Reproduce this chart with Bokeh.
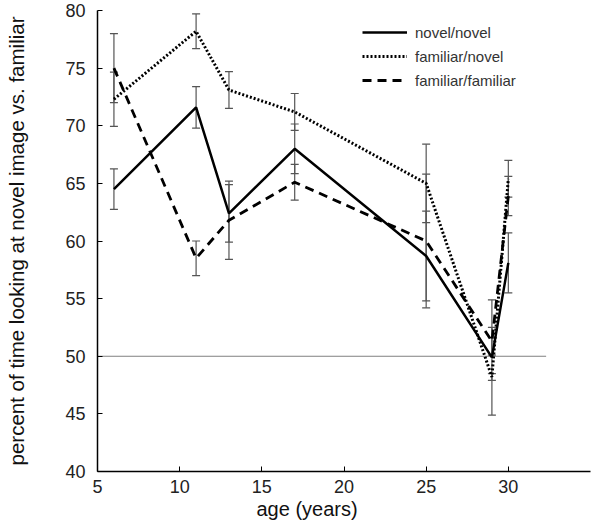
from bokeh.plotting import figure
from bokeh.models import (ColumnDataSource, Whisker, TeeHead, Range1d, Legend,
                          LegendItem, FixedTicker, Title)
from bokeh.embed import file_html
from bokeh.resources import INLINE

# ---- data ----
ages = [6, 11, 13, 17, 25, 29, 30]
novel_novel = [64.5, 71.6, 62.4, 68.0, 58.7, 49.9, 58.1]
novel_novel_err = [1.75, 1.8, 2.5, 2.15, 3.9, 5.0, 2.6]
familiar_novel = [72.3, 78.2, 73.1, 71.2, 65.0, 48.2, 65.4]
familiar_novel_err = [2.35, 1.5, 1.6, 1.6, 3.4, 0.3, 1.6]
familiar_familiar = [75.0, 58.5, 61.8, 65.1, 60.0, 51.3, 63.9]
familiar_familiar_err = [3.0, 1.5, 3.4, 1.55, 5.8, 1.2, 1.7]
chance_x = [5, 32.3]
chance_y = [50, 50]
x_ticks = [5, 10, 15, 20, 25, 30]
y_ticks = [40, 45, 50, 55, 60, 65, 70, 75, 80]
x_title = "age (years)"
y_title = "percent of time looking at novel image vs. familiar"

FONT = "Liberation Sans"

p = figure(width=592, height=526, output_backend="svg", toolbar_location=None,
           x_range=Range1d(5, 35), y_range=Range1d(40, 80),
           min_border_left=97, min_border_right=2, min_border_top=10,
           min_border_bottom=55)
p.outline_line_color = None
p.grid.grid_line_color = None

# chance line
p.line(chance_x, chance_y, line_color="#808080", line_width=1)

series = [
    ("novel/novel", novel_novel, novel_novel_err, "solid", 2.5),
    ("familiar/novel", familiar_novel, familiar_novel_err, "2 2", 3),
    ("familiar/familiar", familiar_familiar, familiar_familiar_err, "9 6", 2.8),
]

items = []
for name, vals, errs, dash, w in series:
    src = ColumnDataSource(dict(x=ages, y=vals,
                                upper=[v + e for v, e in zip(vals, errs)],
                                lower=[v - e for v, e in zip(vals, errs)]))
    wh = Whisker(base="x", upper="upper", lower="lower", source=src,
                 line_color="#555555", line_width=1.2,
                 upper_head=TeeHead(size=8, line_color="#555555", line_width=1.2),
                 lower_head=TeeHead(size=8, line_color="#555555", line_width=1.2))
    p.add_layout(wh)
    r = p.line("x", "y", source=src, line_color="black", line_width=w,
               line_dash=dash)
    items.append(LegendItem(label=name, renderers=[r]))

legend = Legend(items=items, location=(265, 381), padding=0, margin=0,
                spacing=4, glyph_width=45, glyph_height=20, label_height=20,
                label_standoff=8, border_line_alpha=0, background_fill_alpha=0,
                label_text_font=FONT, label_text_font_size="15px",
                label_text_color="#333333")
p.add_layout(legend, "center")

for ax in (p.xaxis[0], p.yaxis[0]):
    ax.axis_line_color = "black"
    ax.axis_line_width = 1.5
    ax.major_tick_in = 5
    ax.major_tick_out = 0
    ax.major_tick_line_color = "black"
    ax.minor_tick_line_color = None
    ax.major_label_text_font = FONT
    ax.major_label_text_font_size = "18px"
    ax.major_label_text_color = "#222222"

p.xaxis[0].ticker = FixedTicker(ticks=x_ticks)
p.yaxis[0].ticker = FixedTicker(ticks=y_ticks)
p.xaxis[0].major_label_standoff = 8
p.yaxis[0].major_label_standoff = 12

p.yaxis[0].axis_label = y_title
p.yaxis[0].axis_label_text_font = FONT
p.yaxis[0].axis_label_text_font_size = "20.5px"
p.yaxis[0].axis_label_text_font_style = "normal"
p.yaxis[0].axis_label_text_color = "#111111"
p.yaxis[0].axis_label_standoff = 34

# x title sits left of the frame centre in the reference
p.add_layout(Title(text=x_title, align="left", offset=159, standoff=0,
                   text_font=FONT, text_font_size="20px",
                   text_font_style="normal", text_color="#111111"), "below")

open("out.html", "w").write(file_html(p, INLINE))
